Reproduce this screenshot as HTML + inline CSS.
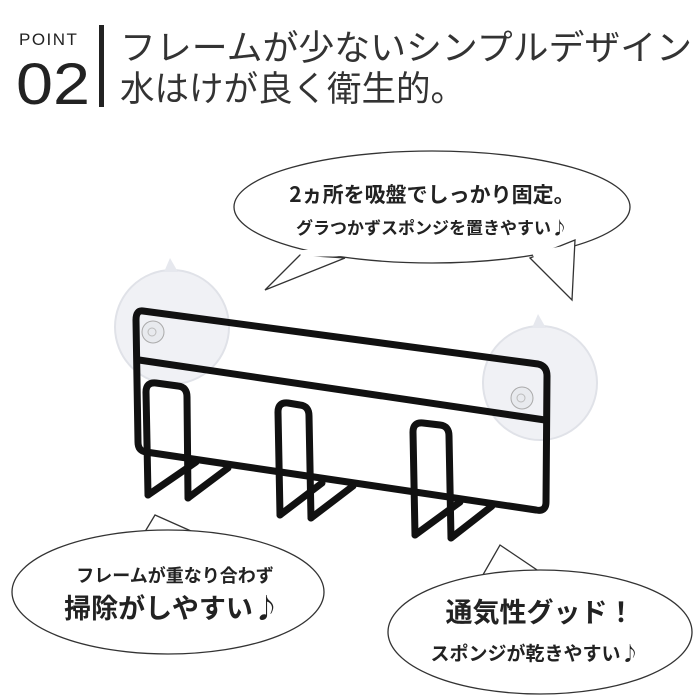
<!DOCTYPE html>
<html><head><meta charset="utf-8"><style>
body{margin:0;width:700px;height:700px;background:#fff;overflow:hidden;font-family:"Liberation Sans","Noto Sans CJK JP",sans-serif;}
</style></head><body>
<svg width="700" height="700" viewBox="0 0 700 700" xmlns="http://www.w3.org/2000/svg" style="position:absolute;left:0;top:0">
<text x="19" y="45" font-size="17" fill="#222" letter-spacing="1.5" font-family="Liberation Sans, sans-serif">POINT</text>
<text x="16" y="104" font-size="58" fill="#222" font-family="Liberation Sans, sans-serif" textLength="74" lengthAdjust="spacingAndGlyphs">02</text>
<rect x="99" y="25" width="5" height="82" fill="#222"/>
<text x="120" y="60" font-size="35" fill="#333" font-family="Noto Sans CJK JP, sans-serif" textLength="572" lengthAdjust="spacingAndGlyphs">フレームが少ないシンプルデザイン</text>
<text x="120" y="101" font-size="35" fill="#333" font-family="Noto Sans CJK JP, sans-serif" textLength="345" lengthAdjust="spacingAndGlyphs">水はけが良く衛生的。</text>

<!-- suction cups -->
<circle cx="172" cy="327" r="57" fill="#f0f1f5" stroke="#e0e2e8" stroke-width="2"/>
<circle cx="540" cy="383" r="57" fill="#f0f1f5" stroke="#e0e2e8" stroke-width="2"/>
<path d="M164 272 l6 -14 l8 14z" fill="#e6e8ee"/>
<path d="M532 328 l6 -14 l8 14z" fill="#e6e8ee"/>

<!-- frame -->
<g fill="none" stroke="#111" stroke-width="7" stroke-linejoin="round" stroke-linecap="round">
<path d="M143 311 L538 364 Q547 366 547 376 L546 502 Q546 512 536 510 L146 452 Q138 451 138 442 L136 320 Q136 310 143 311Z"/>
<path d="M139 360 L545 420"/>
<!-- hook 1 -->
<path d="M148 495 L146 392 Q146 382 156 383 L178 386 Q187 387 187 397 L188 498"/>
<path d="M148 495 L196 462 M188 498 L228 468"/>
<!-- hook 2 -->
<path d="M280 515 L278 412 Q278 402 288 403 L300 405 Q309 406 309 416 L311 518"/>
<path d="M280 515 L322 483 M311 518 L353 486"/>
<!-- hook 3 -->
<path d="M415 535 L413 432 Q413 422 423 423 L440 425 Q449 426 449 436 L451 538"/>
<path d="M415 535 L460 502 M451 538 L492 506"/>
</g>
<circle cx="153" cy="332" r="11" fill="#e8eaee" stroke="#aaa"/>
<circle cx="152" cy="332" r="4" fill="none" stroke="#bbb"/>
<circle cx="522" cy="398" r="11" fill="#e8eaee" stroke="#aaa"/>
<circle cx="521" cy="398" r="4" fill="none" stroke="#bbb"/>

<!-- bubbles -->
<g fill="#fff" stroke="#333" stroke-width="1.3">
<path d="M300 255 L265 290 L345 258 Z"/>
<ellipse cx="432" cy="207" rx="198" ry="56"/>
<path d="M530 258 L572 300 L575 240 Z"/>
<path d="M140 540 L155 515 L200 535 Z"/>
<ellipse cx="168" cy="592" rx="156" ry="62"/>
<path d="M480 580 L500 545 L540 572 Z"/>
<ellipse cx="540" cy="632" rx="152" ry="62"/>
</g>
<g fill="#fff">
<path d="M302 250 L343 250 L345 256 L300 257Z"/>
<path d="M532 252 L574 244 L572 260 L534 258Z"/>
<path d="M143 540 L198 533 L196 540 L145 545Z"/>
<path d="M482 580 L538 572 L536 580 L484 585Z"/>
</g>
<g font-family="Noto Sans CJK JP, sans-serif" font-weight="bold" fill="#222" text-anchor="middle">
<text x="432" y="202" font-size="21">2ヵ所を吸盤でしっかり固定。</text>
<text x="432" y="234" font-size="17">グラつかずスポンジを置きやすい♪</text>
<text x="175" y="582" font-size="18">フレームが重なり合わず</text>
<text x="172" y="618" font-size="27">掃除がしやすい♪</text>
<text x="540" y="622" font-size="27">通気性グッド！</text>
<text x="535" y="660" font-size="19">スポンジが乾きやすい♪</text>
</g>
</svg>
</body></html>
